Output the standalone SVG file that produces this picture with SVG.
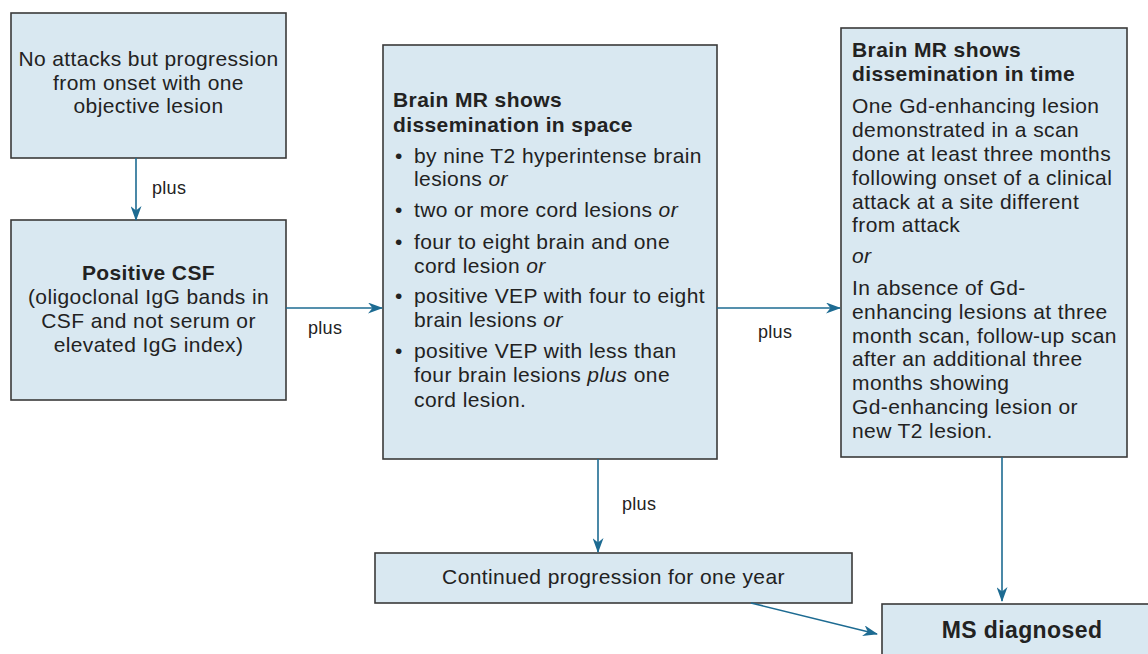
<svg xmlns="http://www.w3.org/2000/svg" width="1148" height="654" viewBox="0 0 1148 654">
<defs>
<marker id="ah" viewBox="0 0 15 11" refX="14" refY="5.5" markerWidth="15" markerHeight="11" markerUnits="userSpaceOnUse" orient="auto">
<path d="M0,0 L15,5.5 L0,11 L4.5,5.5 Z" fill="#1d6b92"/>
</marker>
</defs>
<style>
.box{fill:#d9e8f1;stroke:#3a3a3a;stroke-width:1.6}
.t{font-family:"Liberation Sans",Arial,sans-serif;font-size:21px;letter-spacing:0.4px;fill:#222}
.c{text-anchor:middle}
.b{font-weight:bold}
.i{font-style:italic}
.lbl{font-family:"Liberation Sans",Arial,sans-serif;font-size:18px;letter-spacing:0.3px;fill:#222}
.con{stroke:#1d6b92;stroke-width:1.6;fill:none;marker-end:url(#ah)}
</style>
<rect width="1148" height="654" fill="#ffffff"/>
<g id="n1">
<rect class="box" x="11" y="13" width="275" height="145"/>
<text class="t c" x="148.5" y="66">No attacks but progression</text>
<text class="t c" x="148.5" y="90">from onset with one</text>
<text class="t c" x="148.5" y="113">objective lesion</text>
</g>
<g id="n2">
<rect class="box" x="11" y="220" width="275" height="180"/>
<text class="t c b" x="148.5" y="280">Positive CSF</text>
<text class="t c" x="148.5" y="304">(oligoclonal IgG bands in</text>
<text class="t c" x="148.5" y="328">CSF and not serum or</text>
<text class="t c" x="148.5" y="352">elevated IgG index)</text>
</g>
<g id="n3">
<rect class="box" x="383" y="45" width="334" height="414"/>
<text class="t b" x="393" y="107">Brain MR shows</text>
<text class="t b" x="393" y="132">dissemination in space</text>
<text class="t" x="395" y="163">•</text>
<text class="t" x="414" y="163">by nine T2 hyperintense brain</text>
<text class="t" x="414" y="186">lesions <tspan class="i">or</tspan></text>
<text class="t" x="395" y="217">•</text>
<text class="t" x="414" y="217">two or more cord lesions <tspan class="i">or</tspan></text>
<text class="t" x="395" y="249">•</text>
<text class="t" x="414" y="249">four to eight brain and one</text>
<text class="t" x="414" y="273">cord lesion <tspan class="i">or</tspan></text>
<text class="t" x="395" y="303">•</text>
<text class="t" x="414" y="303">positive VEP with four to eight</text>
<text class="t" x="414" y="327">brain lesions <tspan class="i">or</tspan></text>
<text class="t" x="395" y="358">•</text>
<text class="t" x="414" y="358">positive VEP with less than</text>
<text class="t" x="414" y="382">four brain lesions <tspan class="i">plus</tspan> one</text>
<text class="t" x="414" y="407">cord lesion.</text>
</g>
<g id="n4">
<rect class="box" x="841" y="28" width="286" height="429"/>
<text class="t b" x="852" y="57">Brain MR shows</text>
<text class="t b" x="852" y="81">dissemination in time</text>
<text class="t" x="852" y="113">One Gd-enhancing lesion</text>
<text class="t" x="852" y="137">demonstrated in a scan</text>
<text class="t" x="852" y="161">done at least three months</text>
<text class="t" x="852" y="185">following onset of a clinical</text>
<text class="t" x="852" y="209">attack at a site different</text>
<text class="t" x="852" y="232">from attack</text>
<text class="t i" x="852" y="263">or</text>
<text class="t" x="852" y="295">In absence of Gd-</text>
<text class="t" x="852" y="319">enhancing lesions at three</text>
<text class="t" x="852" y="343">month scan, follow-up scan</text>
<text class="t" x="852" y="366">after an additional three</text>
<text class="t" x="852" y="390">months showing</text>
<text class="t" x="852" y="414">Gd-enhancing lesion or</text>
<text class="t" x="852" y="438">new T2 lesion.</text>
</g>
<g id="n5">
<rect class="box" x="375" y="553" width="477" height="50"/>
<text class="t c" x="613.5" y="584">Continued progression for one year</text>
</g>
<g id="n6">
<rect class="box" x="882" y="604" width="300" height="100"/>
<text class="t c b" x="1022" y="638" style="font-size:23px">MS diagnosed</text>
</g>
<g id="connectors">
<line class="con" x1="136" y1="158" x2="136" y2="220"/>
<line class="con" x1="286" y1="308" x2="382" y2="308"/>
<line class="con" x1="717" y1="308" x2="840" y2="308"/>
<line class="con" x1="598" y1="459" x2="598" y2="552"/>
<line class="con" x1="1002" y1="457" x2="1002" y2="601"/>
<line class="con" x1="751" y1="603" x2="877" y2="634"/>
<text class="lbl" x="152" y="194">plus</text>
<text class="lbl" x="308" y="334">plus</text>
<text class="lbl" x="758" y="338">plus</text>
<text class="lbl" x="622" y="510">plus</text>
</g>
</svg>
